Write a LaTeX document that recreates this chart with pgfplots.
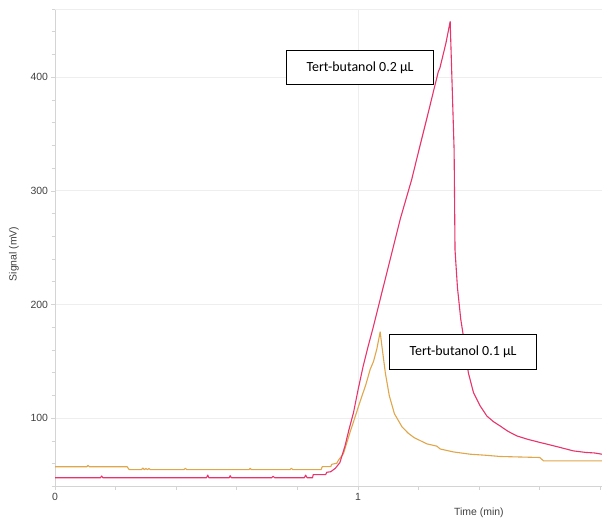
\documentclass[border=0pt]{standalone}
\usepackage{pgfplots}
\pgfplotsset{compat=1.18}
\usepackage{fontspec}
\setmainfont{Liberation Sans}
\newfontfamily\calib{Carlito}
\definecolor{redline}{HTML}{E8336B}
\definecolor{orangeline}{HTML}{DFA64A}
\definecolor{axgray}{HTML}{D4D4D4}
\definecolor{gridgray}{HTML}{EEEEEE}
\definecolor{txtgray}{HTML}{404040}
\begin{document}
\begin{tikzpicture}
\useasboundingbox (0,0) rectangle (602bp,519bp);
\begin{axis}[
 at={(55bp,32.5bp)}, anchor=south west,
 width=547bp, height=477.5bp, scale only axis,
 xmin=0, xmax=1.805, ymin=40, ymax=460,
 axis lines=left, axis line style={draw=axgray, line width=0.9bp, -},
 xtick={0,1}, minor xtick={0.2,0.4,0.6,0.8,1.2,1.4,1.6,1.8},
 ytick={100,200,300,400}, minor ytick={40,60,...,460},
 extra y ticks={460}, extra y tick labels={},
 extra y tick style={grid=major, major tick length=3bp},
 tick align=outside, major tick length=3.5bp, minor tick length=3bp,
 tick style={draw=axgray, line width=0.8bp},
 grid=major, major grid style={draw=gridgray, line width=0.9bp},
 /pgf/number format/assume math mode=true,
 ticklabel style={font=\fontsize{10.5}{12}\selectfont, text=txtgray},
 xlabel={Time (min)}, ylabel={Signal (mV)},
 label style={font=\fontsize{10.5}{12}\selectfont, text=txtgray},
 xlabel style={at={(axis description cs:0.775,-0.055)}, anchor=center},
 ylabel style={at={(axis description cs:-0.075,0.487)}, anchor=center},
 every axis plot/.append style={line width=1.1bp, line join=round},
]
% Tert-butanol 0.1 uL (orange)
\addplot[orangeline] coordinates {
(0,57.4) (0.105,57.4) (0.109,58.5) (0.113,57.4) (0.238,57.4) (0.245,54.8)
(0.285,54.8) (0.29,56.2) (0.295,54.8) (0.30,55.8) (0.305,54.8) (0.31,55.8) (0.315,54.8)
(0.425,54.8) (0.43,56) (0.435,54.8) (0.64,54.8) (0.644,56) (0.648,54.8)
(0.775,54.8) (0.78,56) (0.785,54.8) (0.878,54.8) (0.882,57.5) (0.91,57.5)
(0.913,59.5) (0.93,60.5) (0.935,63) (0.952,69) (0.974,88) (0.99,101)
(1.007,115) (1.025,129) (1.04,143) (1.051,150) (1.062,161) (1.073,176)
(1.078,165) (1.09,140) (1.103,120) (1.12,104) (1.145,92.5) (1.165,87)
(1.185,83) (1.227,77.5) (1.26,75.5) (1.271,73) (1.315,70.4)
(1.37,68.4) (1.42,67.5) (1.469,66.4) (1.6,65.5) (1.612,62.5) (1.805,62.5)
};
% Tert-butanol 0.2 uL (red)
\addplot[redline] coordinates {
(0,47.7) (0.15,47.7) (0.154,49.2) (0.158,47.7) (0.50,47.7) (0.504,50) (0.508,47.7)
(0.575,47.7) (0.578,49.5) (0.582,47.7) (0.715,47.7) (0.72,49) (0.725,47.7)
(0.823,47.7) (0.827,50) (0.832,47.7) (0.85,47.7) (0.852,50.5) (0.893,50.5)
(0.897,52.5) (0.91,53) (0.925,56) (0.94,61) (0.957,75.7) (0.97,90)
(0.985,105) (1.0,125) (1.017,146) (1.034,164) (1.051,181) (1.078,210)
(1.111,245) (1.139,275) (1.177,310) (1.2,335) (1.23,367) (1.252,391)
(1.265,405) (1.27,408) (1.29,430) (1.304,449)
(1.317,336) (1.320,248) (1.328,215) (1.339,187) (1.346,175)
(1.364,140) (1.381,122.5) (1.403,110.8) (1.425,102) (1.447,97) (1.469,93.2)
(1.495,88.5) (1.524,84.5) (1.56,81.5) (1.601,78.7) (1.65,75.5) (1.711,71.3)
(1.75,70) (1.78,69.5) (1.805,68.4)
};
\node[draw=black, line width=0.8bp, fill=white, minimum width=146.6bp, minimum height=34bp, inner sep=0pt, font=\calib\fontsize{14}{16}\selectfont] at (axis cs:1.0066,408.6) {Tert-butanol 0.2 µL};
\node[draw=black, line width=0.8bp, fill=white, minimum width=147.4bp, minimum height=35bp, inner sep=0pt, font=\calib\fontsize{14}{16}\selectfont] at (axis cs:1.3465,158.3) {Tert-butanol 0.1 µL};
\end{axis}
\end{tikzpicture}
\end{document}
